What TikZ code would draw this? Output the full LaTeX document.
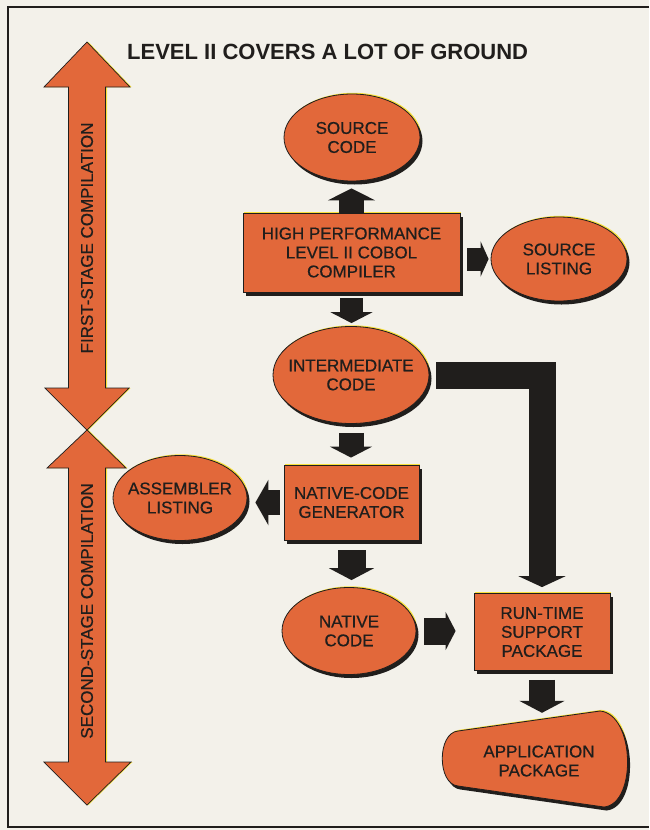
\documentclass[tikz,border=0pt]{standalone}
\usepackage{fontspec}
\setmainfont{Liberation Sans}
\newfontfamily\levelfont{Liberation Sans}[FakeBold=0.6]
\usepackage{tikz}
\usetikzlibrary{arrows.meta,shapes.geometric,shadows,calc}
\definecolor{levelOrange}{RGB}{226,104,58}
\definecolor{levelPaper}{RGB}{243,241,234}
\definecolor{levelInk}{RGB}{32,30,28}
\definecolor{levelGlow}{RGB}{248,224,60}

\begin{document}
\begin{tikzpicture}[x=1pt,y=-1pt,
  lit/.style={general shadow={fill=levelGlow, shadow xshift=1.2pt, shadow yshift=1.2pt},
    general shadow={fill=levelInk, shadow xshift=2.5pt, shadow yshift=-3.5pt}},
  blob/.style={ellipse, lit, fill=levelOrange, draw=levelInk, line width=0.8pt, inner sep=-12pt,
    align=center, text=levelInk, font=\levelfont\fontsize{17}{19}\selectfont},
  unit/.style={rectangle, lit, fill=levelOrange, draw=levelInk, line width=0.8pt, inner sep=0pt,
    align=center, text=levelInk, font=\levelfont\fontsize{17}{19}\selectfont},
  stagefill/.style={fill=levelOrange, draw=levelInk, line width=0.7pt,
    general shadow={fill=levelGlow, shadow xshift=1.5pt, shadow yshift=0pt}},
  stagetext/.style={rotate=90, text=levelInk, font=\levelfont\fontsize{17}{19}\selectfont},
  pipe/.style n args={3}{draw=levelInk, line width=#1, line join=miter, -{Triangle[width=#2, length=#3]}}]
\fill[levelPaper] (0,0) rectangle (649,830);
\draw[levelInk, line width=1.8pt] (649,7) -- (8,7) -- (8,827) -- (649,827);
\node[anchor=base west, inner sep=0pt, text=levelInk, font=\fontsize{22}{26}\selectfont\bfseries] (title) at (127,59) {LEVEL II COVERS A LOT OF GROUND};
\draw[stagefill] (87,42) -- (130,87) -- (105.5,87) -- (105.5,388) -- (129,388) -- (87,430) -- (45,388) -- (68.5,388) -- (68.5,87) -- (44,87) -- cycle;
\draw[stagefill] (87,430) -- (126,468) -- (105.5,468) -- (105.5,762) -- (131,762) -- (87,805) -- (44,762) -- (68.5,762) -- (68.5,468) -- (47,468) -- cycle;
\node[stagetext] (firstlabel) at (87,238) {FIRST-STAGE COMPILATION};
\node[stagetext] (secondlabel) at (87,611) {SECOND-STAGE COMPILATION};
\node[blob, minimum width=136pt, minimum height=87pt] (source) at (352,137.5) {SOURCE\\CODE};
\node[unit, minimum width=217pt, minimum height=79pt] (compiler) at (351.5,252.5) {HIGH PERFORMANCE\\LEVEL II COBOL\\COMPILER};
\node[blob, minimum width=136pt, minimum height=84pt] (listing) at (559,259) {SOURCE\\LISTING};
\node[blob, minimum width=156pt, minimum height=97pt] (inter) at (351,375) {INTERMEDIATE\\CODE};
\node[unit, minimum width=135pt, minimum height=75pt] (generator) at (351.5,502.5) {NATIVE-CODE\\GENERATOR};
\node[blob, minimum width=134pt, minimum height=85pt] (assembler) at (180,498) {ASSEMBLER\\LISTING};
\node[blob, minimum width=134pt, minimum height=87pt] (native) at (349,631) {NATIVE\\CODE};
\node[unit, minimum width=136pt, minimum height=77pt] (runtime) at (542,632) {RUN-TIME\\SUPPORT\\PACKAGE};
\draw[lit, fill=levelOrange, draw=levelInk, line width=0.8pt] (458,731) -- (600,711) .. controls (635,714) and (637,804) .. (604,807) -- (458,786) .. controls (437,784) and (437,733) .. (458,731) -- cycle;
\node[minimum height=96pt, inner sep=0pt, align=center, text=levelInk, font=\levelfont\fontsize{17}{19}\selectfont] (application) at (539,761) {APPLICATION\\PACKAGE};
\draw[pipe={25pt}{47pt}{12pt}, shorten >=7pt] (compiler.north) -- (compiler.north |- source.south);
\draw[pipe={23pt}{35pt}{8pt}, shorten <=7pt, shorten >=2pt] (compiler.east |- listing.west) -- (listing.west);
\draw[pipe={23pt}{42pt}{11pt}, shorten <=6pt, shorten >=3pt] (compiler.south) -- (compiler.south |- inter.north);
\draw[pipe={27pt}{47pt}{11pt}, shorten <=7pt, shorten >=6pt] (inter.east) -| (runtime.north);
\draw[pipe={25pt}{42pt}{11pt}, shorten <=9pt, shorten >=7pt] (inter.south) -- (inter.south |- generator.north);
\draw[pipe={25pt}{45pt}{13pt}, shorten <=4pt, shorten >=8pt] (generator.west) -- (generator.west -| assembler.east);
\draw[pipe={28pt}{45pt}{12pt}, shorten <=10pt, shorten >=7pt] (generator.south) -- (generator.south |- native.north);
\draw[pipe={27pt}{38pt}{10pt}, shorten <=8pt, shorten >=18pt] (native.east) -- (native.east -| runtime.west);
\draw[pipe={26pt}{45pt}{12pt}, shorten <=9pt] (runtime.south) -- (runtime.south |- application.north);
\end{tikzpicture}
\end{document}
